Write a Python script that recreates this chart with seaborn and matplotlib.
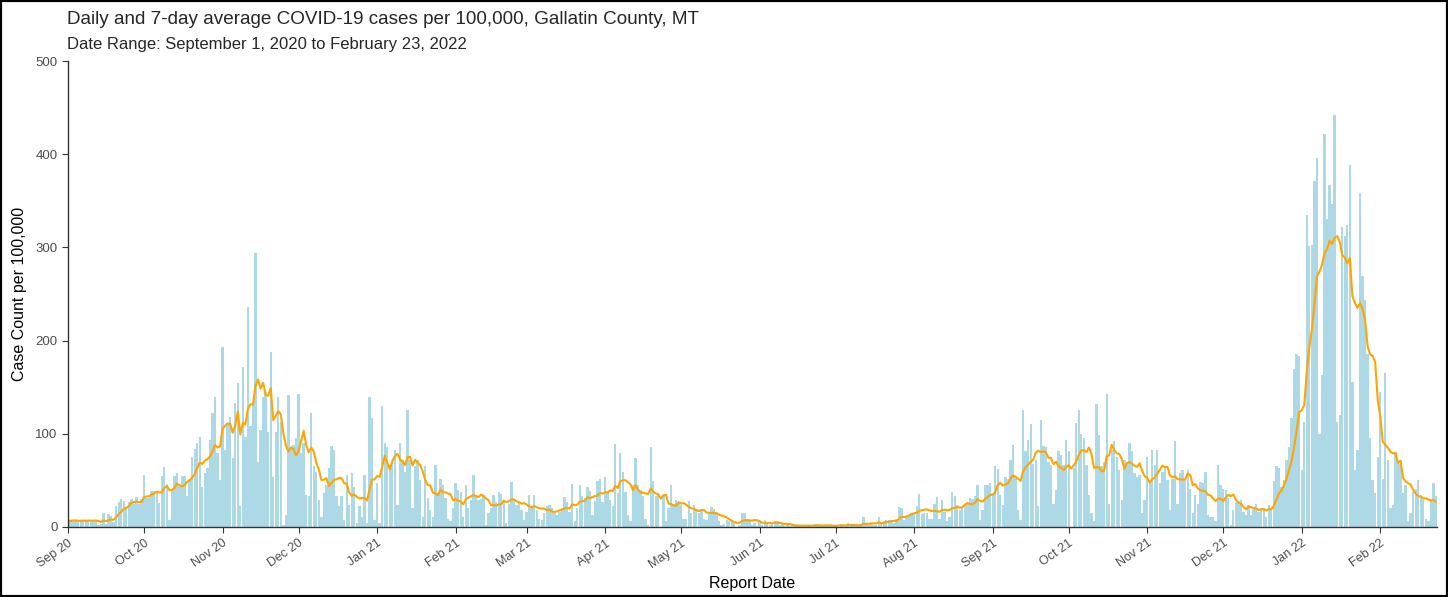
import numpy as np
import pandas as pd
import matplotlib
matplotlib.use("Agg")
import matplotlib.pyplot as plt
import seaborn as sns

# daily cases per 100,000
sep20 = [7, 6, 8, 7, 5, 7, 8, 6, 7, 8, 6, 7, 2, 3, 15, 3, 14, 12, 5, 22, 27, 30, 28, 19, 27, 30, 25, 32, 25, 30]
oct20 = [56, 31, 31, 39, 39, 39, 26, 55, 64, 46, 8, 39, 55, 58, 44, 55, 55, 33, 51, 75, 84, 90, 97, 43, 58, 63, 93, 122, 140, 79, 50]
nov20 = [193, 83, 111, 118, 74, 133, 154, 22, 172, 97, 236, 108, 131, 294, 70, 104, 140, 145, 102, 188, 54, 102, 140, 113, 2, 13, 142, 86, 88, 95]
dec20 = [143, 79, 90, 34, 33, 122, 65, 59, 29, 11, 36, 45, 63, 87, 83, 33, 22, 33, 8, 56, 24, 58, 43, 4, 22, 11, 56, 4, 140, 117, 8]
jan21 = [47, 4, 130, 90, 86, 67, 70, 83, 24, 90, 72, 59, 126, 72, 20, 65, 72, 50, 11, 65, 31, 18, 11, 67, 36, 52, 45, 31, 9, 6, 20]
feb21 = [47, 40, 38, 11, 45, 20, 29, 56, 34, 29, 30, 34, 2, 15, 20, 34, 27, 38, 35, 29, 4, 25, 48, 29, 24, 27, 18, 8]
mar21 = [16, 34, 20, 34, 18, 9, 8, 15, 22, 24, 20, 15, 13, 16, 20, 32, 27, 16, 46, 6, 20, 45, 33, 31, 43, 39, 13, 28, 49, 52, 27]
apr21 = [54, 36, 29, 22, 89, 36, 79, 59, 38, 13, 6, 45, 74, 45, 40, 33, 9, 2, 86, 49, 33, 34, 0, 34, 6, 20, 45, 25, 29, 27]
may21 = [24, 9, 9, 28, 15, 24, 19, 15, 18, 9, 8, 15, 21, 19, 14, 6, 2, 3, 8, 6, 8, 4, 0, 2, 15, 15, 8, 6, 2, 4, 1]
jun21 = [8, 2, 8, 4, 2, 3, 6, 6, 2, 3, 1, 2, 1, 2, 1, 1, 2, 1, 2, 1, 2, 1, 3, 2, 1, 1, 2, 1, 2, 1]
jul21 = [1, 2, 3, 2, 1, 4, 2, 1, 1, 2, 3, 11, 4, 2, 3, 2, 2, 11, 4, 6, 8, 7, 6, 4, 9, 21, 20, 8, 11, 13, 15]
aug21 = [15, 23, 35, 14, 15, 15, 9, 9, 25, 32, 9, 29, 16, 6, 11, 38, 33, 22, 18, 20, 24, 25, 31, 30, 33, 45, 8, 18, 45, 45, 47]
sep21 = [34, 65, 62, 34, 24, 54, 52, 72, 88, 54, 18, 8, 126, 81, 93, 111, 68, 72, 22, 115, 87, 86, 70, 67, 25, 40, 81, 77, 67, 93]
oct21 = [81, 0, 63, 112, 126, 100, 95, 67, 34, 15, 6, 132, 99, 65, 70, 143, 25, 83, 92, 75, 61, 29, 72, 68, 90, 81, 58, 54, 56, 15, 29]
nov21 = [75, 47, 83, 67, 83, 47, 59, 63, 50, 18, 52, 92, 25, 58, 61, 52, 61, 41, 15, 34, 25, 48, 47, 59, 13, 11, 11, 6, 67, 45]
dec21 = [41, 40, 31, 2, 18, 27, 27, 29, 16, 13, 24, 13, 20, 25, 16, 20, 18, 11, 24, 20, 49, 65, 63, 43, 50, 72, 86, 117, 170, 186, 183]
jan22 = [61, 113, 335, 301, 303, 371, 396, 100, 163, 422, 331, 367, 347, 442, 113, 120, 322, 312, 324, 388, 156, 61, 83, 358, 269, 244, 186, 95, 50, 36, 75]
feb22 = [145, 52, 165, 72, 20, 24, 79, 70, 68, 36, 45, 6, 15, 38, 41, 50, 34, 29, 9, 6, 29, 47, 33]

cases = (sep20 + oct20 + nov20 + dec20 + jan21 + feb21 + mar21 + apr21 + may21
         + jun21 + jul21 + aug21 + sep21 + oct21 + nov21 + dec21 + jan22 + feb22)

df = pd.DataFrame({'date': pd.date_range('2020-09-01', periods=len(cases), freq='D'),
                   'cases': cases})
df['day'] = np.arange(len(df))
df['avg7'] = df['cases'].rolling(7, min_periods=1).mean()  # 7-day average

sns.set_style('ticks')
plt.rcParams['font.family'] = ['Liberation Sans', 'DejaVu Sans']

fig = plt.figure(figsize=(14.48, 5.97), dpi=100)
ax = fig.add_axes([0.047, 0.1173, 0.9454, 0.7805])

#categorical bars sit at 0..n-1, same as the day column
sns.barplot(data=df, x='day', y='cases', color='#add8e6', saturation=1,
            width=0.92, linewidth=0, ax=ax)
sns.lineplot(data=df, x='day', y='avg7', color='#ffa500', lw=1.5, ax=ax)

#month ticks
month_starts = df[df['date'].dt.day == 1]
ax.set_xticks(month_starts['day'])
ax.set_xticklabels(month_starts['date'].dt.strftime('%b %y'), rotation=35, ha='right',
                   rotation_mode='anchor', color='#4d4d4d', fontsize=9)
ax.set_xlim(0, len(df) - 0.6)
ax.set_ylim(0, 500)
ax.set_yticks(range(0, 501, 100))
ax.set_yticklabels([str(v) for v in range(0, 501, 100)])
ax.tick_params(axis='y', colors='#333333', labelcolor='#4d4d4d', labelsize=9.5, length=4)
ax.tick_params(axis='x', colors='#333333', labelcolor='#4d4d4d', length=4)
sns.despine(ax=ax)
for s in ['left', 'bottom']:
    ax.spines[s].set_color('#333333')
    ax.spines[s].set_linewidth(1.0)

ax.set_xlabel('Report Date', fontsize=11.5, color='black')
ax.set_ylabel('Case Count per 100,000', fontsize=11.5, color='black', labelpad=6)

fig.text(0.0463, 0.9665, 'Daily and 7-day average COVID-19 cases per 100,000, Gallatin County, MT',
         fontsize=13.6, va='center', ha='left')
fig.text(0.0463, 0.925, 'Date Range: September 1, 2020 to February 23, 2022',
         fontsize=12, va='center', ha='left')

# black frame round the whole figure
fig.patches.append(plt.Rectangle((0, 0), 1, 1, transform=fig.transFigure, fill=False,
                                 edgecolor='black', linewidth=3))

fig.savefig('out.png', dpi=100)
